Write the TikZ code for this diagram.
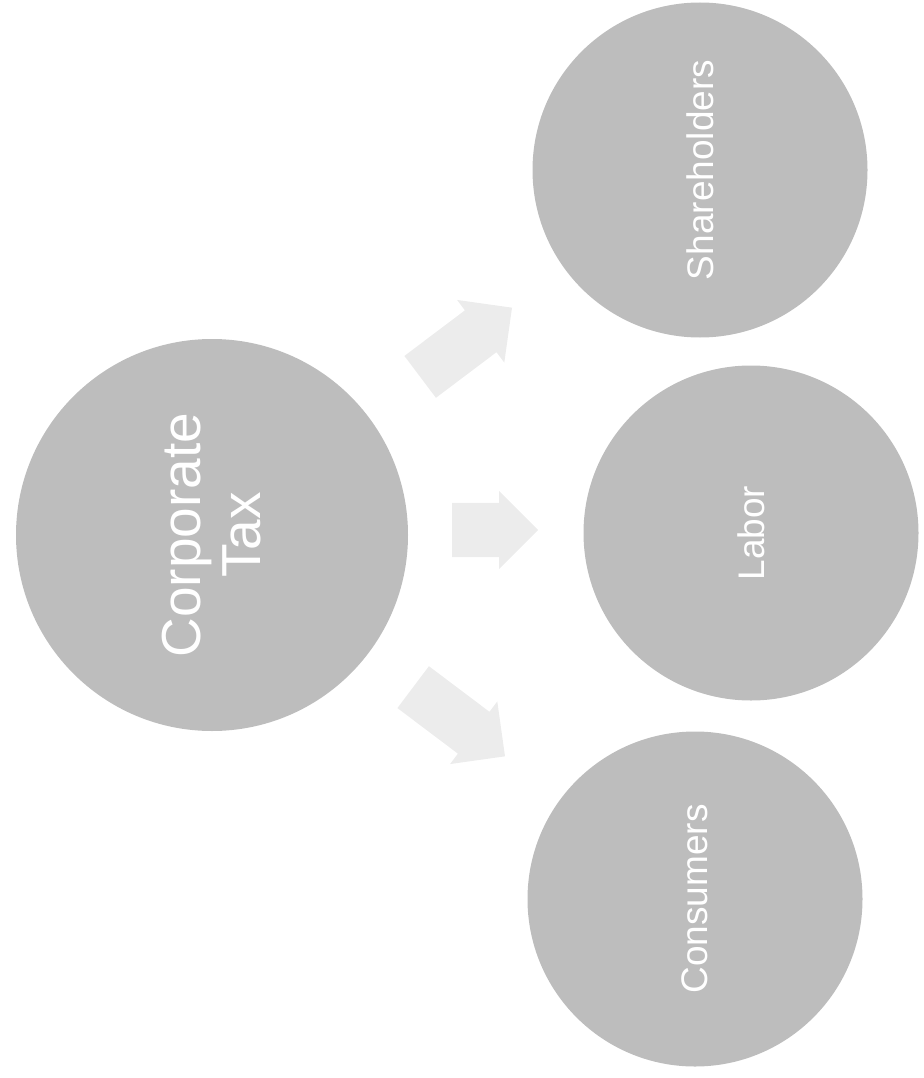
\documentclass[tikz,border=0pt]{standalone}
\usepackage{fontspec}
\setmainfont{Liberation Sans}
\usetikzlibrary{shapes.arrows,positioning}

\definecolor{discgray}{RGB}{189,189,189}
\definecolor{arrowgray}{RGB}{236,236,236}

\begin{document}
\begin{tikzpicture}[x=1pt,y=-1pt,
    bigdisc/.style={circle,fill=discgray,minimum size=392pt,inner sep=0pt,
      text=white,align=center,rotate=90,font=\fontsize{55}{60}\selectfont},
    disc/.style={circle,fill=discgray,minimum size=335pt,inner sep=0pt,
      text=white,rotate=90,font=\fontsize{37}{40}\selectfont},
    blockarrow/.style={single arrow,fill=arrowgray,anchor=tail,inner xsep=0pt,inner ysep=26pt,
      text height=0pt,text depth=0pt,single arrow head extend=13pt}]
  \useasboundingbox (0,0) rectangle (923,1078);
  \node[bigdisc](tax) at (212,535) {Corporate\\Tax};
  \node[disc](share) at (700,170) {Shareholders};
  \node[disc](labor) at (751,533) {Labor};
  \node[disc](cons) at (695,899) {Consumers};
  \node[blockarrow,minimum height=115pt,rotate=37](toshare) at (420,377) {};
  \node[blockarrow,minimum height=86pt,inner ysep=27pt,single arrow head extend=12pt](tolabor) at (452,530) {};
  \node[blockarrow,minimum height=115pt,rotate=-37](tocons) at (413,687) {};
\end{tikzpicture}
\end{document}
